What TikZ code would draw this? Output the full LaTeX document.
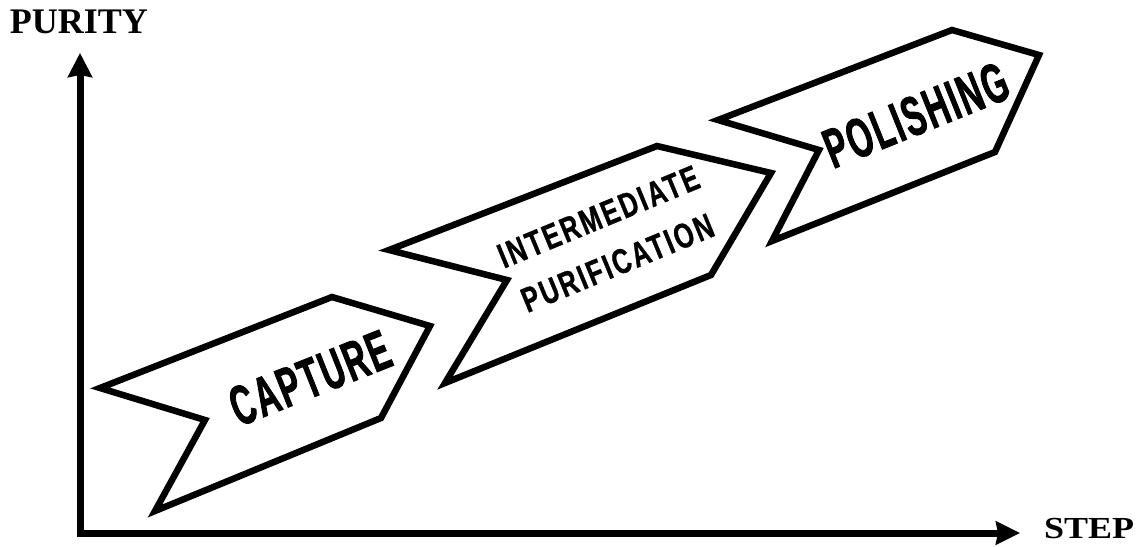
\documentclass[tikz,border=0pt]{standalone}
\usepackage{fontspec}
\setmainfont{Liberation Serif}
\newfontfamily\bigcond{Liberation Sans}[FakeStretch=0.57, LetterSpace=4, BoldFeatures={FakeBold=1.4}]
\newfontfamily\midcond{Liberation Sans}[FakeStretch=0.72, LetterSpace=7, BoldFeatures={FakeBold=0.9}]
\usetikzlibrary{arrows.meta}
\tikzset{
  axisline/.style={line width=7pt, line join=miter,
    {Stealth[length=24pt,width=24pt,inset=2pt]}-{Stealth[length=24pt,width=23pt,inset=2pt]}},
  banner/.style={draw=black, fill=white, line width=6.5pt, line join=miter, miter limit=12},
  axlabel/.style={font=\fontsize{36}{36}\selectfont\bfseries, inner sep=0pt},
  bigtext/.style={font=\bigcond\bfseries\fontsize{56}{56}\selectfont, inner sep=0pt},
  midtext/.style={font=\midcond\bfseries\fontsize{35}{50}\selectfont, inner sep=0pt, align=center},
}
\begin{document}
\begin{tikzpicture}[x=1pt,y=-1pt]
\useasboundingbox (0,0) rectangle (1139,546);
% axes
\coordinate (ytip) at (80,53);
\coordinate (origin) at (80,533);
\coordinate (xtip) at (1020,533);
\draw[axisline] (ytip) -- (origin) -- (xtip);
\node[axlabel] (purity) at (79,22) {PURITY};
\node[axlabel] (step) at (1089,529) {\scalebox{1}[0.85]{STEP}};
% capture banner
\draw[banner] (100,388) -- (332,297) -- (430,326) -- (381,418) -- (155,511) -- (205,420) -- cycle;
\node[bigtext, rotate=21.7] (capture) at (310,378) {CAPTURE};
% intermediate banner
\draw[banner] (389,250) -- (657,146) -- (771,173) -- (711,275) -- (445,383) -- (507,280) -- cycle;
\node[midtext, rotate=22.4] (inter) at (608,240) {INTERMEDIATE\\PURIFICATION};
% polishing banner
\draw[banner] (718,120) -- (952,30) -- (1039,55) -- (995,152) -- (772,241) -- (819,150) -- cycle;
\node[bigtext, rotate=21.9] (polish) at (916,115) {POLISHING};
\end{tikzpicture}
\end{document}
